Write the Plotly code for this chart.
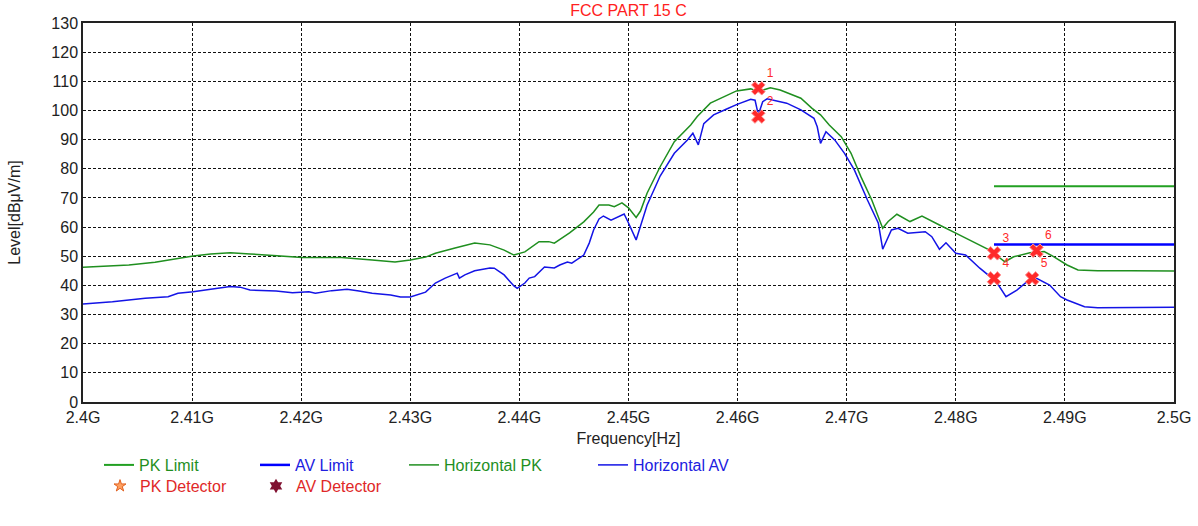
import plotly.graph_objects as go

# ---------------- data ----------------
pk_freq = [2400.0, 2401.5, 2404.2, 2406.6, 2408.7, 2410.1, 2411.7, 2413.5, 2415.3, 2418.3,
           2420.1, 2423.7, 2425.9, 2426.5, 2428.6, 2430.0, 2431.4, 2432.3, 2434.1, 2435.9,
           2437.3, 2438.6, 2439.5, 2440.5, 2441.8, 2442.7, 2443.2, 2444.6, 2445.9, 2446.8,
           2447.3, 2448.2, 2448.7, 2449.4, 2450.0, 2450.7, 2451.1, 2451.7, 2452.9, 2454.2,
           2455.7, 2456.3, 2457.5, 2458.7, 2459.9, 2461.2, 2461.9, 2463.0, 2463.9, 2465.8,
           2466.8, 2467.6, 2468.4, 2469.5, 2470.4, 2471.3, 2472.3, 2473.3, 2473.8, 2474.6,
           2475.8, 2476.9, 2477.8, 2478.5, 2480.0, 2481.9, 2483.1, 2484.5, 2485.3, 2486.8,
           2488.1, 2489.0, 2490.2, 2491.2, 2493.0, 2496.1, 2500.0]
pk_level = [46.2, 46.4, 47.0, 47.9, 49.3, 50.1, 50.8, 51.2, 50.8, 50.1,
            49.6, 49.6, 49.0, 48.7, 48.0, 48.7, 49.7, 51.0, 52.8, 54.5,
            53.9, 52.1, 50.4, 51.5, 55.0, 55.0, 54.5, 58.0, 61.8, 65.2,
            67.6, 67.6, 67.0, 68.3, 66.6, 63.3, 65.5, 71.6, 80.7, 89.3,
            95.0, 97.9, 102.5, 104.7, 106.7, 107.4, 106.5, 107.8, 107.0, 104.2,
            100.8, 98.5, 95.0, 91.0, 85.3, 77.3, 69.3, 59.6, 61.9, 64.4,
            61.9, 63.8, 61.9, 60.7, 57.9, 54.4, 52.1, 48.1, 49.8, 51.2,
            51.6, 49.8, 47.0, 45.3, 45.0, 45.0, 44.9]

av_freq = [2400.0, 2402.7, 2405.7, 2407.8, 2408.7, 2410.1, 2411.7, 2413.5, 2414.4, 2415.3,
           2417.7, 2419.2, 2420.7, 2421.3, 2422.8, 2424.2, 2425.3, 2426.5, 2428.2, 2429.1,
           2430.0, 2431.4, 2432.3, 2433.2, 2434.3, 2434.5, 2435.0, 2435.9, 2437.3, 2437.7,
           2438.6, 2439.5, 2439.8, 2440.5, 2440.9, 2441.4, 2442.3, 2443.2, 2443.7, 2444.4,
           2444.8, 2445.5, 2445.9, 2446.4, 2446.8, 2447.3, 2447.7, 2448.4, 2449.1, 2449.6,
           2450.0, 2450.7, 2451.7, 2452.9, 2454.2, 2455.4, 2455.9, 2456.4, 2456.9, 2457.8,
           2459.0, 2459.9, 2461.2, 2461.6, 2461.9, 2462.3, 2462.7, 2464.5, 2465.8, 2467.0,
           2467.3, 2467.6, 2468.1, 2468.9, 2469.8, 2470.7, 2471.9, 2472.9, 2473.3, 2474.1,
           2474.7, 2475.6, 2477.2, 2477.8, 2478.5, 2479.1, 2480.0, 2480.9, 2482.2, 2483.1,
           2483.7, 2484.6, 2485.6, 2486.8, 2487.4, 2488.6, 2489.6, 2490.2, 2491.8, 2493.0,
           2500.0]
av_level = [33.6, 34.4, 35.6, 36.1, 37.3, 37.8, 38.7, 39.6, 39.4, 38.4,
            38.1, 37.5, 37.8, 37.3, 38.2, 38.7, 38.1, 37.3, 36.7, 36.0,
            36.0, 37.7, 40.8, 42.5, 44.2, 42.5, 43.6, 45.0, 46.0, 45.9,
            43.6, 39.8, 39.0, 40.8, 42.5, 43.0, 46.3, 46.0, 47.0, 48.0,
            47.6, 49.4, 50.4, 54.5, 59.0, 62.8, 63.8, 62.4, 63.5, 64.5,
            61.4, 55.6, 67.5, 77.5, 85.3, 89.9, 92.2, 88.2, 95.5, 98.5,
            100.5, 102.0, 103.8, 103.5, 98.5, 103.0, 104.0, 102.5, 100.2, 97.3,
            94.4, 88.7, 92.7, 89.9, 85.3, 79.6, 69.3, 61.3, 52.4, 59.0,
            59.6, 57.9, 58.4, 56.7, 52.4, 54.6, 51.0, 50.4, 45.9, 43.0,
            41.3, 36.1, 38.4, 42.1, 42.4, 40.1, 36.1, 35.0, 32.7, 32.3,
            32.5]

limit_freq = [2483.5, 2500.0]
pk_limit = [74, 74]
av_limit = [54, 54]

marker_freq = [2461.9, 2461.9, 2483.5, 2483.5, 2487.0, 2487.4]
marker_level = [107.6, 97.9, 51.0, 42.4, 42.4, 51.9]
marker_labels = ["1", "2", "3", "4", "5", "6"]

x_ticks = [2400, 2410, 2420, 2430, 2440, 2450, 2460, 2470, 2480, 2490, 2500]
x_tick_labels = ["2.4G", "2.41G", "2.42G", "2.43G", "2.44G", "2.45G",
                 "2.46G", "2.47G", "2.48G", "2.49G", "2.5G"]
y_ticks = [0, 10, 20, 30, 40, 50, 60, 70, 80, 90, 100, 110, 120, 130]

# ---------------- styling ----------------
GREEN = "#1f8f1f"
LGREEN = "#22a022"
BLUE = "#1414e6"
RED = "#ff2a2a"
FONT = "Liberation Sans, Arial, sans-serif"

fig = go.Figure()

fig.add_trace(go.Scatter(x=limit_freq, y=pk_limit, mode="lines", name="PK Limit",
                         line=dict(color=LGREEN, width=2), legend="legend"))
fig.add_trace(go.Scatter(x=limit_freq, y=av_limit, mode="lines", name="AV Limit",
                         line=dict(color="#0000ff", width=2.5), legend="legend2"))
fig.add_trace(go.Scatter(x=pk_freq, y=pk_level, mode="lines", name="Horizontal PK",
                         line=dict(color=GREEN, width=1.5), legend="legend3"))
fig.add_trace(go.Scatter(x=av_freq, y=av_level, mode="lines", name="Horizontal AV",
                         line=dict(color=BLUE, width=1.5), legend="legend4"))
fig.add_trace(go.Scatter(x=marker_freq, y=marker_level, mode="markers+text",
                         text=marker_labels, textposition="top right",
                         textfont=dict(color=RED, size=12, family=FONT),
                         marker=dict(symbol="x", size=12, color=RED,
                                     line=dict(color="#ff9090", width=1)),
                         showlegend=False))
fig.add_trace(go.Scatter(x=[None], y=[None], mode="markers", name="PK Detector",
                         marker=dict(symbol="star", size=9, color="#ffa060",
                                     line=dict(color="#e06020", width=1)),
                         legend="legend5"))
fig.add_trace(go.Scatter(x=[None], y=[None], mode="markers", name="AV Detector",
                         marker=dict(symbol="hexagram", size=11, color="#801030"),
                         legend="legend6"))

W, H = 1198, 526


def leg(px, py, color):
    return dict(x=px / W, y=1 - py / H, xref="container", yref="container",
                xanchor="left", yanchor="middle", orientation="h",
                bgcolor="rgba(0,0,0,0)", borderwidth=0,
                font=dict(family=FONT, size=16, color=color))


fig.update_layout(
    width=W, height=H,
    margin=dict(l=83, r=24, t=23, b=124),
    paper_bgcolor="white", plot_bgcolor="white",
    font=dict(family=FONT, size=16, color="#222222"),
    title=dict(text="FCC PART 15 C", x=628.5 / W, xref="container", xanchor="center",
               y=1 - 10 / H, yref="container", yanchor="middle",
               font=dict(family=FONT, size=16, color="#ff2020")),
    legend=leg(99, 465, GREEN),
    legend2=leg(255, 465, "#2020e0"),
    legend3=leg(404, 465, GREEN),
    legend4=leg(593, 465, "#2020e0"),
    legend5=leg(100, 486, "#e02828"),
    legend6=leg(256, 486, "#e02828"),
    xaxis=dict(range=[2400, 2500], tickmode="array", tickvals=x_ticks,
               ticktext=x_tick_labels, showgrid=True, gridcolor="#111111",
               griddash="3px,2px", gridwidth=1, showline=True, linecolor="#222222",
               linewidth=1.5, mirror=True, ticks="", zeroline=False, automargin=False,
               tickfont=dict(family=FONT, size=16, color="#222222"),
               title=dict(text="Frequency[Hz]", standoff=8,
                          font=dict(family=FONT, size=16, color="#222222"))),
    yaxis=dict(range=[0, 130], tickmode="array", tickvals=y_ticks,
               showgrid=True, gridcolor="#111111", griddash="3px,2px", gridwidth=1,
               showline=True, linecolor="#222222", linewidth=1.5, mirror=True,
               ticks="", zeroline=False, automargin=False,
               tickfont=dict(family=FONT, size=16, color="#222222"),
               title=dict(text="Level[dBμV/m]", standoff=27,
                          font=dict(family=FONT, size=16, color="#222222"))),
)

fig.write_html("out.html", config={"displayModeBar": False},
               post_script="document.body.style.margin='0px';")
